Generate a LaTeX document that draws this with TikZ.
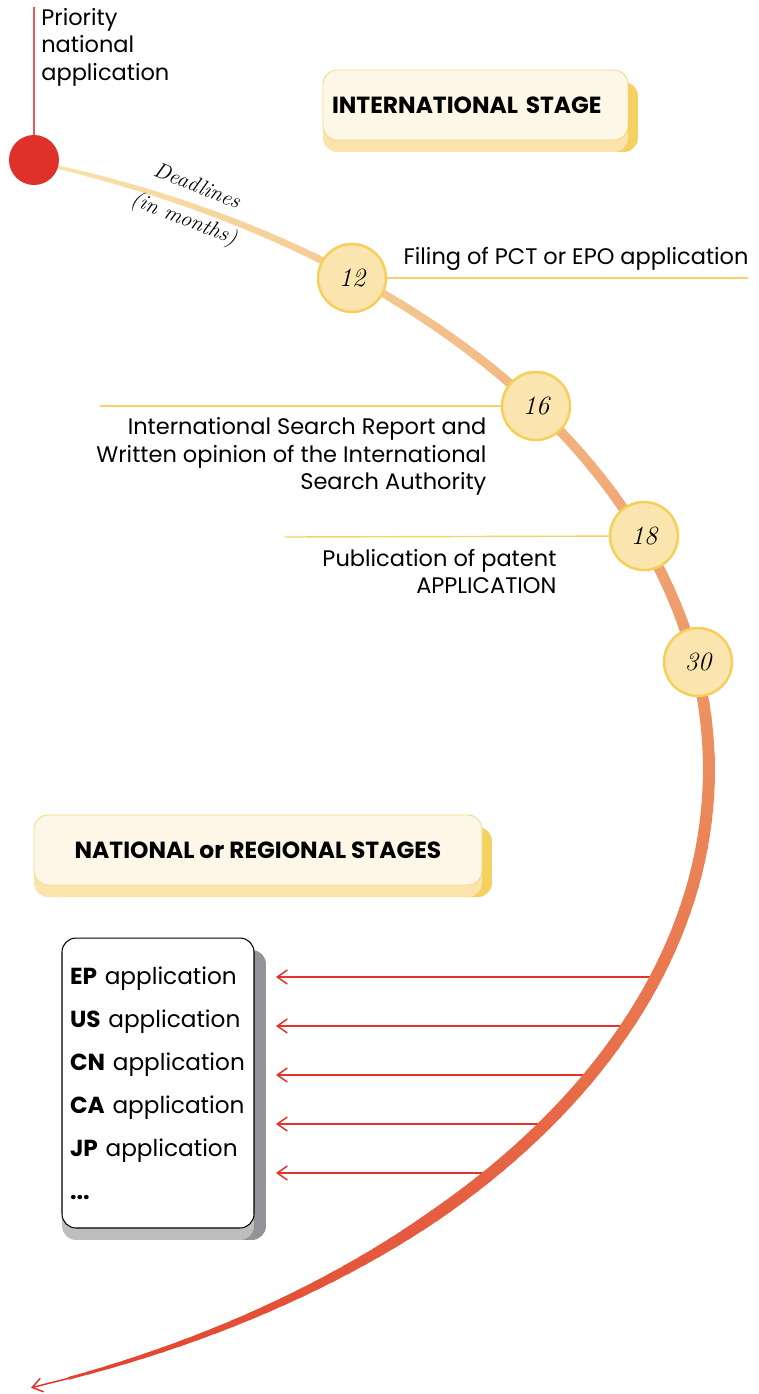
\documentclass[tikz,border=0pt]{standalone}
\usepackage{fontspec}
\usepackage{xcolor}
\usepackage{tikz}
\usetikzlibrary{positioning,arrows.meta,shadows}
\newfontfamily\pctsans{Poppins}
\newfontfamily\pcthead{Poppins}
\definecolor{pctred}{HTML}{E2322B}
\definecolor{pctdot}{HTML}{E0302A}
\definecolor{pctstem}{HTML}{E55B5B}
\definecolor{pctcurvetop}{HTML}{F9E3AA}
\definecolor{pctcurvemid}{HTML}{EC8C5C}
\definecolor{pctcurveend}{HTML}{E2402E}
\definecolor{pctcircfill}{HTML}{FBE5AE}
\definecolor{pctcircdraw}{HTML}{F5CF5A}
\definecolor{pctrule}{HTML}{F5D26A}
\definecolor{pctstagefill}{HTML}{FDF7E8}
\definecolor{pctstagedraw}{HTML}{F8D888}
\definecolor{pctstageside}{HTML}{F5D162}
\definecolor{pctstagebottom}{HTML}{FAE4AB}
\definecolor{pctlistside}{HTML}{929497}
\definecolor{pctlistbottom}{HTML}{BDBEC0}
\tikzset{
    pctstage/.style={draw=pctstagedraw, fill=pctstagefill, rounded corners=2.8mm, line width=0.5pt, minimum height=14mm, inner sep=0pt, font=\pcthead\bfseries\fontsize{13.3}{15}\selectfont,
        general shadow={shadow xshift=2mm, shadow yshift=-2.4mm, fill=pctstageside},
        general shadow={shadow yshift=-2.4mm, fill=pctstagebottom}},
    pctmonth/.style={circle, draw=pctcircdraw, fill=pctcircfill, line width=1.4pt, minimum size=13.6mm, inner sep=0pt, font=\itshape\fontsize{15}{15}\selectfont},
    pctnote/.style={font=\pctsans\fontsize{12.8}{15.6}\selectfont, inner sep=0pt},
    pcthand/.style={font=\itshape\fontsize{12.5}{20}\selectfont, inner sep=0pt},
    pcttick/.style={draw=pctrule, line width=0.8pt},
    pctarrow/.style={draw=pctred, line width=0.85pt, -{Straight Barb[length=2mm,width=2.8mm]}},
    pctlist/.style={draw, fill=white, rounded corners=2.8mm, line width=0.6pt, align=left, minimum width=38.4mm, minimum height=58mm, text width=35.2mm, inner sep=1.6mm, font=\pctsans\fontsize{13.2}{24.5}\selectfont,
        general shadow={shadow xshift=2.4mm, shadow yshift=-2.4mm, fill=pctlistside},
        general shadow={shadow yshift=-2.4mm, fill=pctlistbottom}}
}

\begin{document}
\begin{tikzpicture}[x=0.02cm, y=-0.02cm]
    \useasboundingbox (0,0) rectangle (758,1394);

    \coordinate (c1) at ({-337+1046*cos(asin(207/660))},977);
    \coordinate (c2) at ({-337+1046*cos(asin(256/660))},1026);
    \coordinate (c3) at ({-337+1046*cos(asin(305/660))},1075);
    \coordinate (c4) at ({-337+1046*cos(asin(354/660))},1124);
    \coordinate (c5) at ({-337+1046*cos(asin(403/660))},1173);
    \coordinate (a1) at (276,977);
    \coordinate (a2) at (276,1026);
    \coordinate (a3) at (276,1075);
    \coordinate (a4) at (276,1124);
    \coordinate (a5) at (276,1173);
    \foreach \k in {1,...,5}{
        \draw[pctarrow] (c\k) -- (a\k);
    }

    % deadline curve, upper half then lower half
    \foreach \i in {1,...,60}{
        \pgfmathsetmacro\ta{-71*(1-(\i-1)/60)}
        \pgfmathsetmacro\tb{-71*(1-\i/60)}
        \pgfmathsetmacro\lw{0.569*(2+10*sqrt(\i/60))}
        \pgfmathtruncatemacro\mix{100*\i/60}
        \draw[line width=\lw pt, line cap=round, color=pctcurvemid!\mix!pctcurvetop]
            ({-271+980*cos(\ta)},{770+640*sin(\ta)}) -- ({-271+980*cos(\tb)},{770+640*sin(\tb)});
    }
    \foreach \i in {1,...,60}{
        \pgfmathsetmacro\ta{69.4*(\i-1)/62}
        \pgfmathsetmacro\tb{69.4*\i/62}
        \pgfmathsetmacro\lw{0.569*(12-10*max(0,(\i/62-0.62)/0.38))}
        \pgfmathtruncatemacro\mix{100*\i/62}
        \draw[line width=\lw pt, line cap=round, color=pctcurveend!\mix!pctcurvemid]
            ({-337+1046*cos(\ta)},{770+660*sin(\ta)}) -- ({-337+1046*cos(\tb)},{770+660*sin(\tb)});
    }
    \coordinate (tail) at ({-337+1046*cos(69.4*60/62)},{770+660*sin(69.4*60/62)});
    \coordinate (tip) at ({-337+1046*cos(69.4)},{770+660*sin(69.4)});
    \draw[pctarrow] (tail) -- (tip);

    \coordinate (stemtop) at (34,7);
    \node[circle, fill=pctdot, minimum size=10mm, inner sep=0pt] (prio) at (34,160) {};
    \draw[pctstem, line width=0.8pt] (stemtop) -- (prio);
    \node[pctnote, anchor=north west, align=left] (priolabel) at (41,8) {Priority\\national\\application};

    \node[pcthand, rotate=-21.5, align=center] (deadl) at (190,204) {Deadlines\\(in months)};

    \node[pctmonth] (m12) at (352,278) {12};
    \node[pctmonth] (m16) at (536,406) {16};
    \node[pctmonth] (m18) at (644,536) {18};
    \node[pctmonth] (m30) at (698,662) {30};

    \coordinate (t12) at (748,278);
    \coordinate (t16) at (100,406);
    \coordinate (t18) at (285,537);
    \draw[pcttick] (m12) -- (t12);
    \draw[pcttick] (m16) -- (t16);
    \draw[pcttick] (m18) -- (t18);

    \node[pctnote, anchor=south west, above right=1.4mm and 3.2mm of m12.east] (filing) {Filing of PCT or EPO application};
    \node[pctnote, align=right, below left=2.3mm and 2.8mm of m16.west] (search) {International Search Report and\\Written opinion of the International\\Search Authority};
    \node[pctnote, align=right, below left=2.5mm and 10.4mm of m18.west] (publ) {Publication of patent\\APPLICATION};

    \node[pctstage, minimum width=61mm, text width=57.4mm, align=left] (intl) at (475.5,105) {INTERNATIONAL STAGE};
    \node[pctstage, minimum width=89.6mm] (natl) at (258,850) {NATIONAL or REGIONAL STAGES};

    \node[pctlist] (apps) at (158,1083) {\textbf{EP} application\\\textbf{US} application\\\textbf{CN} application\\\textbf{CA} application\\\textbf{JP} application\\\textbf{...}};
\end{tikzpicture}
\end{document}
